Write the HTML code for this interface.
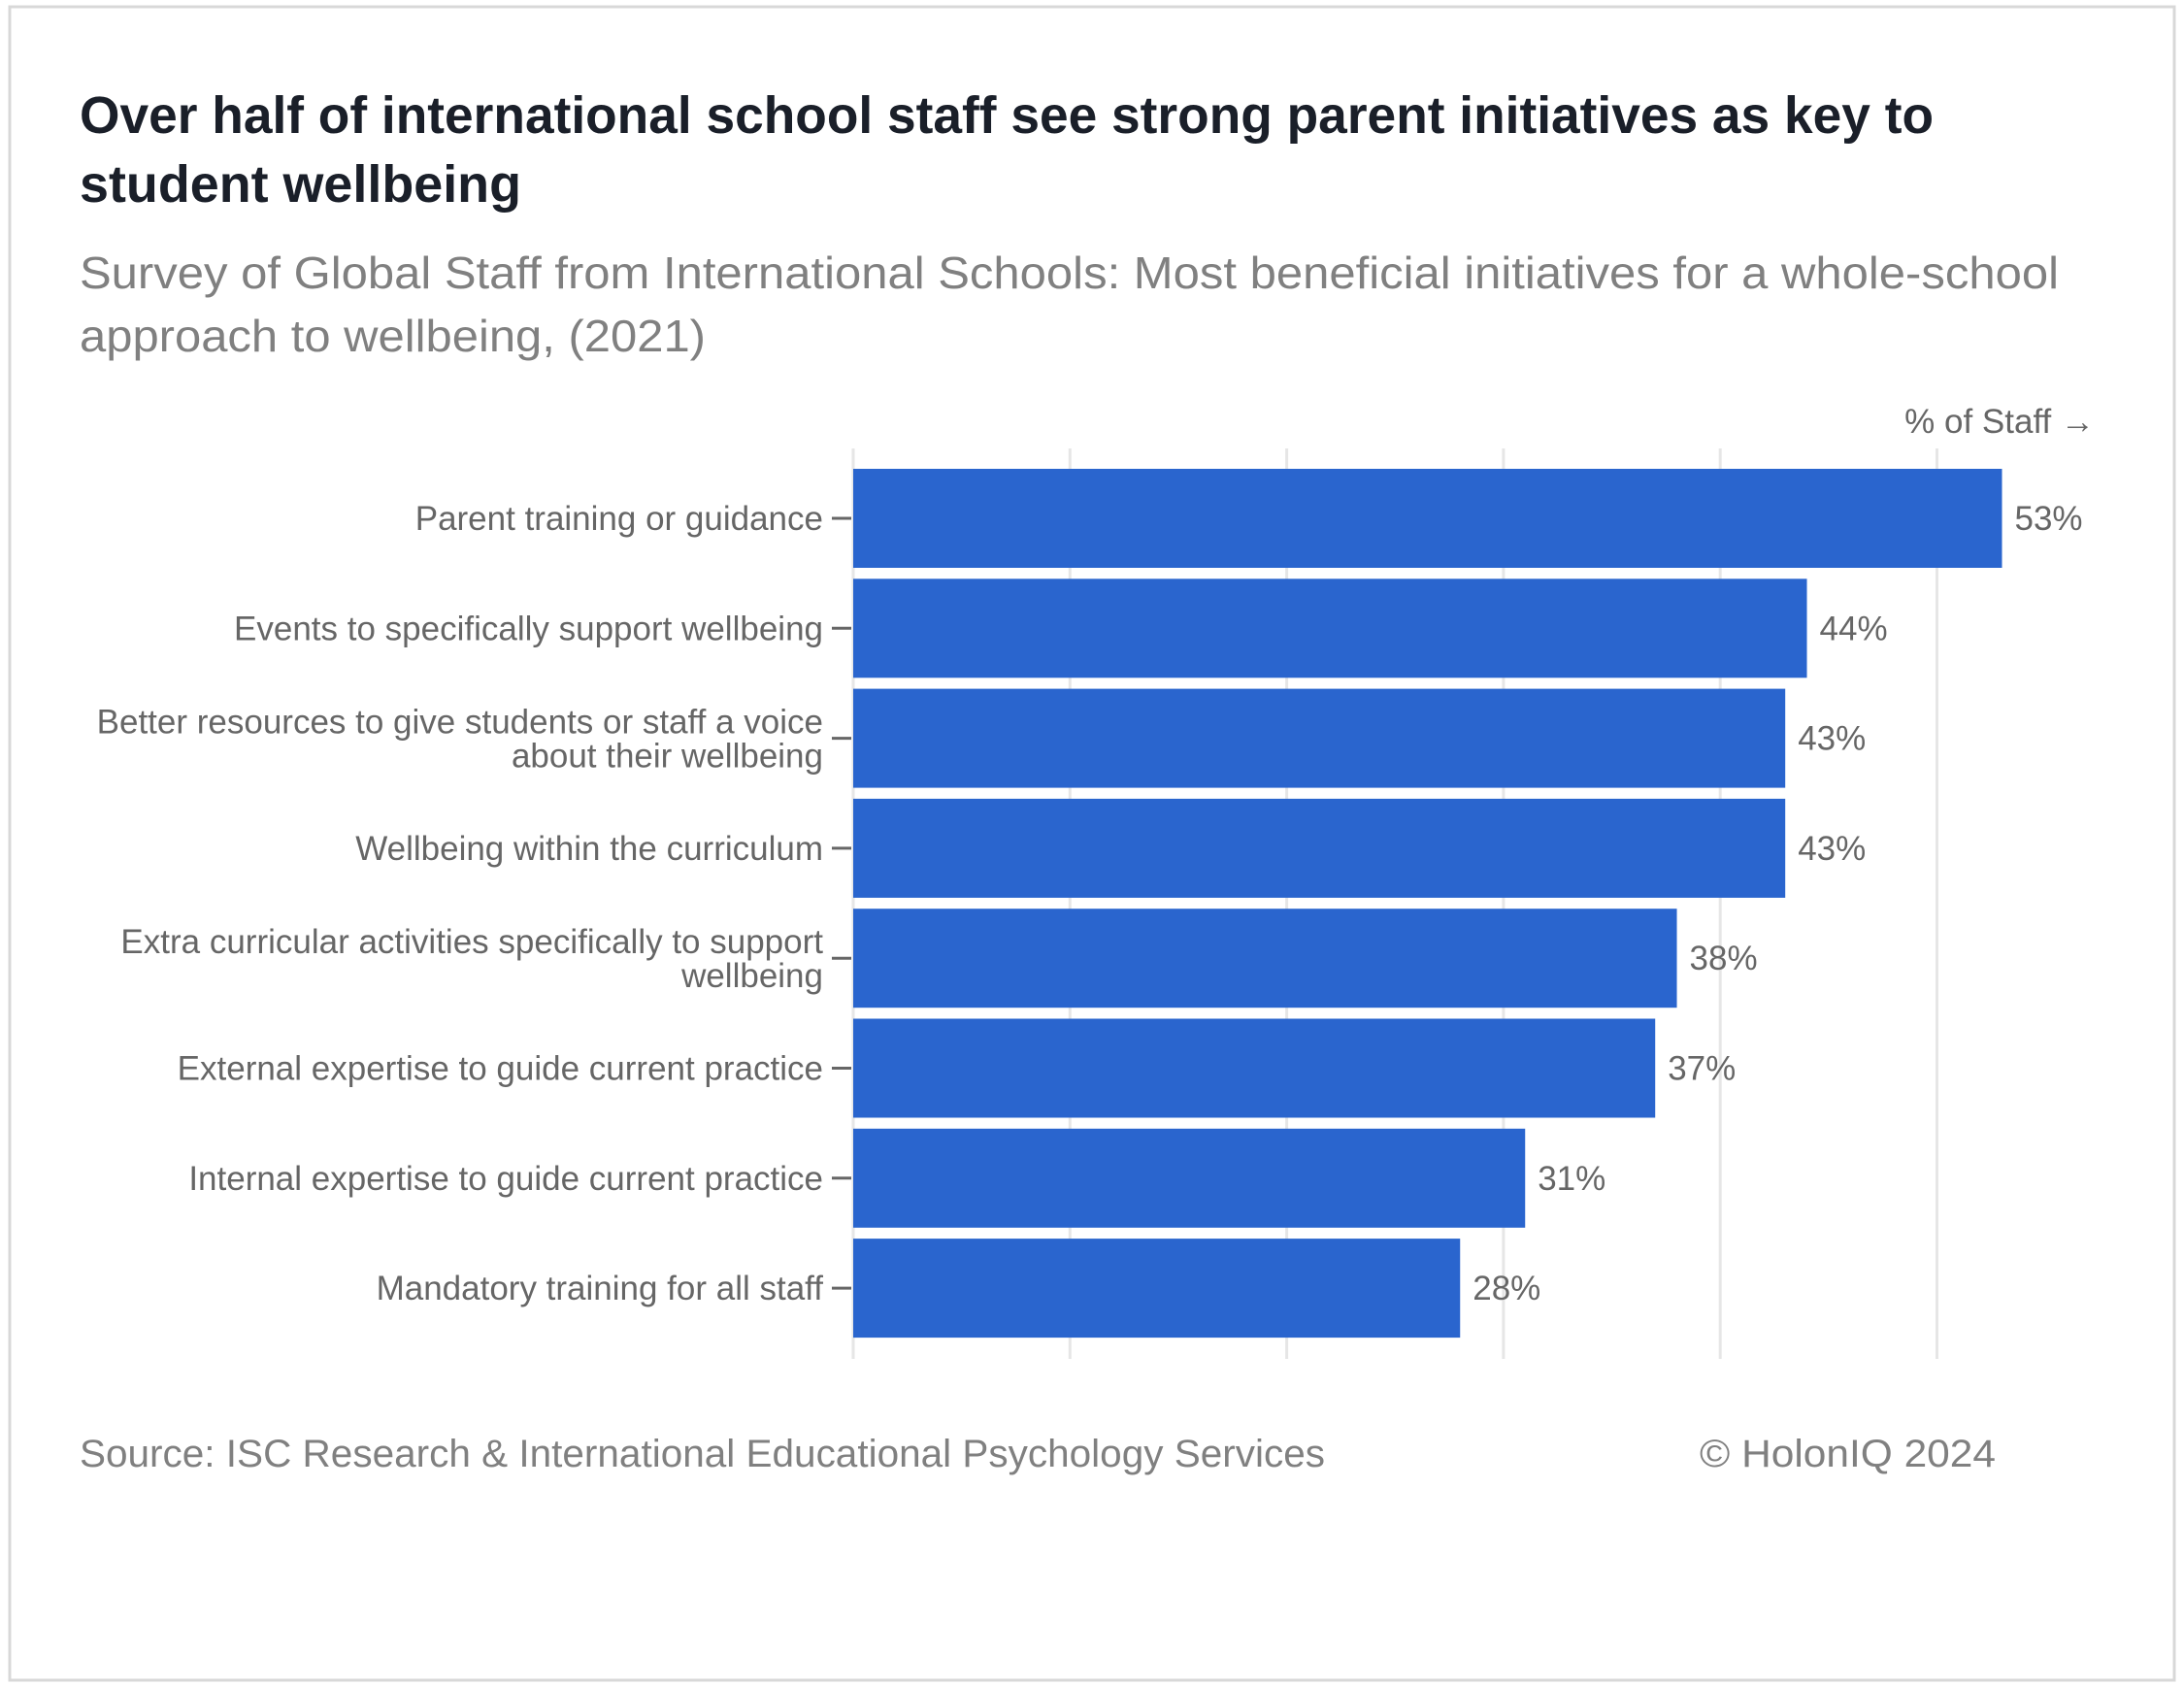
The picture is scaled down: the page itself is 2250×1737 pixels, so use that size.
<!DOCTYPE html>
<html><head><meta charset="utf-8"><style>
html,body{margin:0;padding:0;background:#fff;}
svg{display:block;font-family:"Liberation Sans",sans-serif;}
</style></head><body>
<svg id="chart" width="2250" height="1737" viewBox="0 0 2250 1737">
<rect x="10" y="7" width="2230" height="1724" fill="#fff" stroke="#d8d8d8" stroke-width="3"/>
<text x="82" y="137" font-size="54" font-weight="bold" fill="#1a1f29" textLength="1910" lengthAdjust="spacingAndGlyphs">Over half of international school staff see strong parent initiatives as key to</text>
<text x="82" y="208" font-size="54" font-weight="bold" fill="#1a1f29" textLength="455" lengthAdjust="spacingAndGlyphs">student wellbeing</text>
<text x="82" y="297" font-size="46" fill="#808080" textLength="2039" lengthAdjust="spacingAndGlyphs">Survey of Global Staff from International Schools: Most beneficial initiatives for a whole-school</text>
<text x="82" y="362" font-size="46" fill="#808080" textLength="645" lengthAdjust="spacingAndGlyphs">approach to wellbeing, (2021)</text>
<text x="2158" y="446" font-size="35" fill="#666" text-anchor="end">% of Staff →</text>
<g id="plot"></g>
<text x="82" y="1511" font-size="40" fill="#808080" textLength="1283" lengthAdjust="spacingAndGlyphs">Source: ISC Research &amp; International Educational Psychology Services</text>
<text x="2056" y="1511" font-size="40" fill="#808080" text-anchor="end" textLength="305" lengthAdjust="spacingAndGlyphs">© HolonIQ 2024</text>
</svg>
<script>
const categories = [
 ["Parent training or guidance"],
 ["Events to specifically support wellbeing"],
 ["Better resources to give students or staff a voice","about their wellbeing"],
 ["Wellbeing within the curriculum"],
 ["Extra curricular activities specifically to support","wellbeing"],
 ["External expertise to guide current practice"],
 ["Internal expertise to guide current practice"],
 ["Mandatory training for all staff"]
];
const values = [53, 44, 43, 43, 38, 37, 31, 28];
const valueLabels = ["53%","44%","43%","43%","38%","37%","31%","28%"];
const gridTicks = [0, 10, 20, 30, 40, 50];

const NS = "http://www.w3.org/2000/svg";
const plot = document.getElementById('plot');
const x0 = 879, pxPerUnit = 22.33;
const xScale = v => x0 + v * pxPerUnit;
const top0 = 483, pitch = 113.3, barH = 102;
const yScale = i => top0 + i * pitch;
function mk(tag, attrs){ const e = document.createElementNS(NS, tag); for (const k in attrs) e.setAttribute(k, attrs[k]); plot.appendChild(e); return e; }

gridTicks.forEach(t => {
  const g = mk('line', {x1: xScale(t), x2: xScale(t), y1: 462, y2: 1400, stroke: '#e6e6e6', 'stroke-width': 3});
  
  
});

values.forEach((v, i) => {
  const y = yScale(i), cy = y + barH / 2;
  const r = mk('rect', {x: x0, y: y, width: xScale(v) - x0, height: barH, fill: '#2a65ce'});
  
  
  const vl = mk('text', {x: xScale(v) + 13, y: cy + 12, 'font-size': 35, fill: '#666'});
  vl.textContent = valueLabels[i];
  
  
  const tk = mk('line', {x1: 857, x2: 877, y1: cy, y2: cy, stroke: '#666', 'stroke-width': 3});
  
  
  const lines = categories[i];
  lines.forEach((ln, j) => {
    const off = lines.length === 1 ? 12 : (j === 0 ? -5 : 30);
    const t = mk('text', {x: 848, y: cy + off, 'font-size': 35, fill: '#666', 'text-anchor': 'end'});
    t.textContent = ln;
    
    
  });
});
</script>
</body></html>
